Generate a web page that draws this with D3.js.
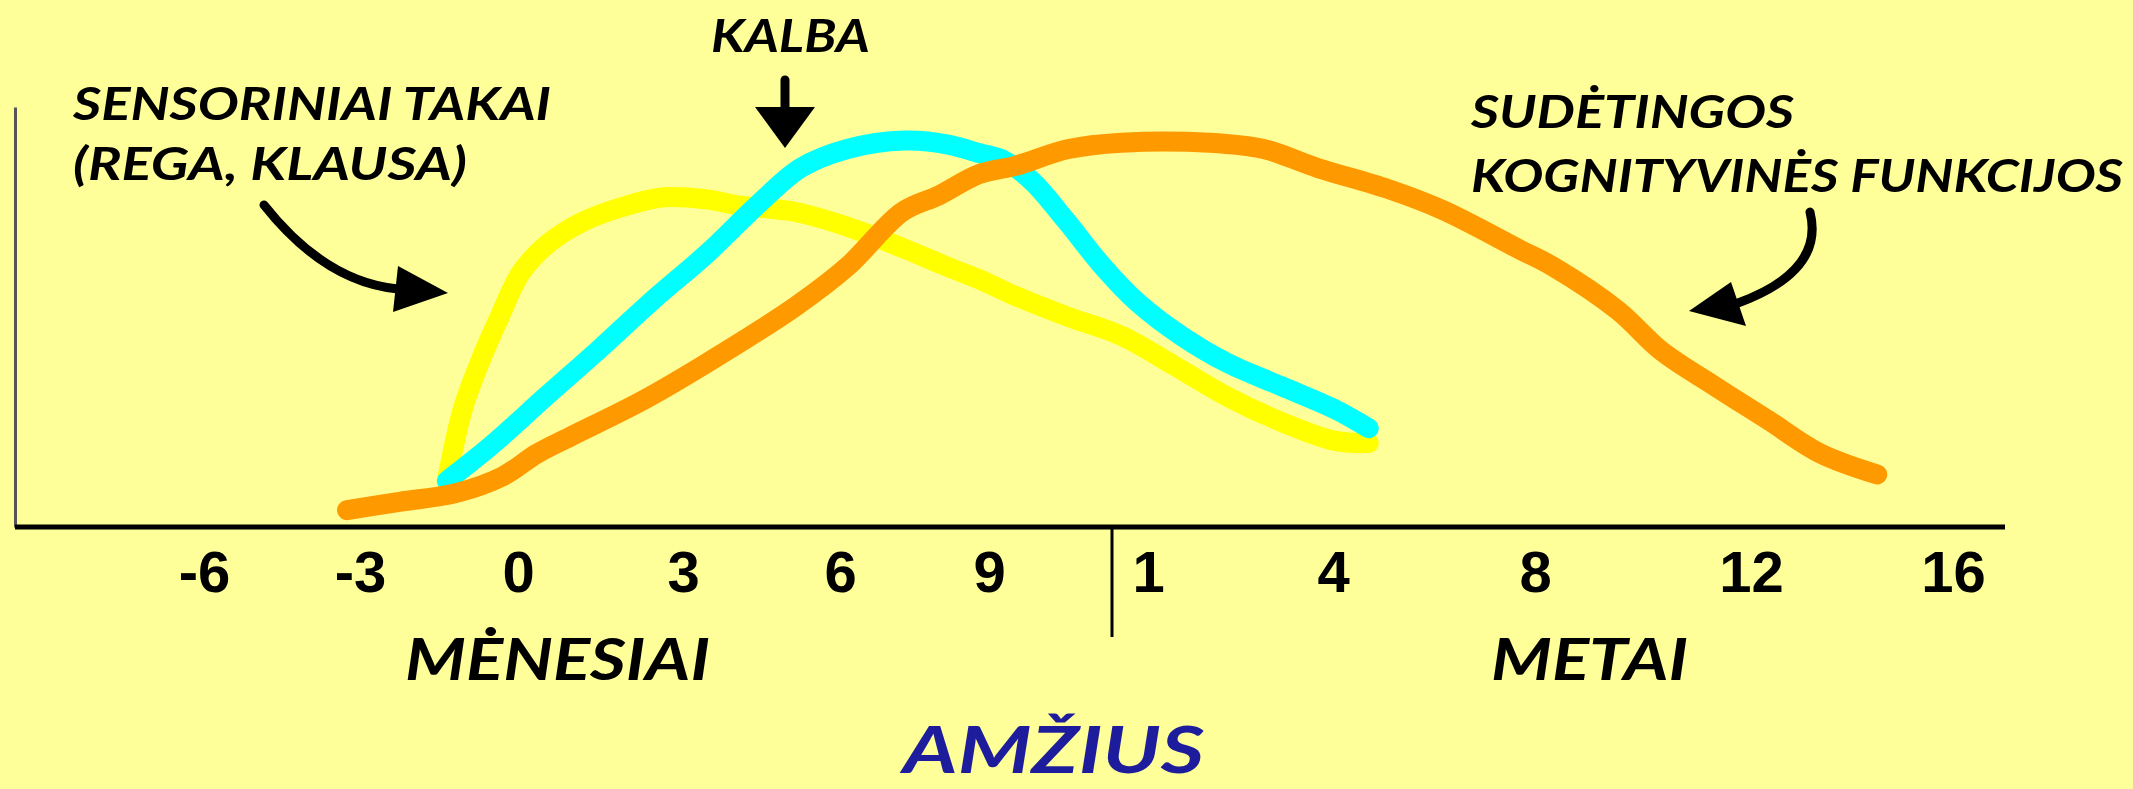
<!DOCTYPE html>
<html lang="lt">
<head>
<meta charset="UTF-8">
<title>Raidos kreivės</title>
<script src="https://d3js.org/d3.v7.min.js"></script>
<style>
  html, body { margin: 0; padding: 0; background: #ffff99; overflow: hidden; }
  svg { display: block; }
  .lbl { font-family: Lato, "Open Sans", sans-serif; font-weight: 700; font-style: italic; }
</style>
</head>
<body>
<div id="chart"></div>
<script>
// x axis: age in months (first part months, then years)
const tickMonths = [-6, -3, 0, 3, 6, 9, 12, 48, 96, 144, 192];
const tickLabels = ["-6", "-3", "0", "3", "6", "9", "1", "4", "8", "12", "16"];

// sensoriniai takai (yellow)
const sensoryMonths = [-1.35, -1.05, -0.7, -0.35, 0.05, 0.55, 1.15, 1.85, 2.65, 3.45, 4.1, 5.15, 6.15, 7.25, 8.15, 8.8, 9.5, 10.5, 11.5, 17, 27.5, 38, 48.5, 56.5];
const sensoryValues = [11, 28, 40, 50, 60.5, 67.5, 72.5, 76, 78.5, 78, 76.5, 75, 71.5, 66.5, 62, 59, 55, 50, 45.5, 38.5, 31, 25, 20.5, 20];

// kalba (cyan)
const languageMonths = [-1.35, -0.5, 0.5, 1.45, 2.45, 3.45, 4.45, 5.25, 6.15, 7.3, 8.2, 8.8, 9.25, 9.8, 10.45, 11.15, 11.8, 18.5, 27.5, 38, 48.5, 56.5];
const languageValues = [11, 19.5, 31, 42, 54, 65, 77, 85.5, 90, 92, 91, 89, 87.5, 82.5, 73, 62, 53.5, 45.5, 39, 33.5, 28, 23.5];

// sudetingos kognityvines funkcijos (orange)
const cognitiveMonths = [-3.25, -2.25, -1.2, -0.3, 0.35, 0.95, 2.25, 3.45, 5.15, 6.15, 7.25, 8.0, 8.8, 9.5, 10.5, 11.5, 24, 34.5, 45, 61, 74, 92.5, 100, 114.5, 124, 136, 148, 160.5, 174];
const cognitiveValues = [4, 6, 8, 12, 17.5, 21.5, 30, 39, 52.5, 62, 75, 79, 84, 86, 90, 91.5, 91.5, 90, 85.5, 80.5, 75.5, 66, 62, 51.5, 42, 33.5, 25.5, 17.5, 12.5];

const width = 2133, height = 789;
const axisY = 527, axisTop = 107, axisLeft = 15, axisRight = 2005;
const tickPx = [204, 360, 518, 683, 840, 989, 1148, 1333, 1535, 1751, 1953];

const svg = d3.select("#chart").append("svg")
    .attr("width", width)
    .attr("height", height);

svg.append("rect").attr("width", width).attr("height", height).attr("fill", "#ffff99");

// piecewise scale, months part and years part have different spacing
const x = d3.scaleLinear().domain(tickMonths).range(tickPx);
const y = d3.scaleLinear().domain([0, 100]).range([axisY, axisTop]);

// y axis (no ticks)
svg.append("g")
    .attr("transform", `translate(${axisLeft},0)`)
    .call(d3.axisLeft(y).tickValues([]).tickSizeOuter(0))
    .select(".domain")
    .attr("stroke", "#555")
    .attr("stroke-width", 3);

// x axis
const xg = svg.append("g")
    .attr("transform", `translate(0,${axisY})`)
    .call(d3.axisBottom(x).tickValues(tickMonths).tickFormat((d, i) => tickLabels[i]).tickSize(0));
xg.select(".domain").remove();
xg.selectAll("text")
    .attr("y", 65)
    .attr("dy", 0)
    .attr("fill", "#000")
    .style("font-family", "'Liberation Sans', Arial, sans-serif")
    .style("font-weight", 700)
    .style("font-size", "58px");

svg.append("line")
    .attr("x1", axisLeft).attr("x2", axisRight)
    .attr("y1", axisY).attr("y2", axisY)
    .attr("stroke", "#000").attr("stroke-width", 5);

// months | years divider
svg.append("line")
    .attr("x1", 1112).attr("x2", 1112)
    .attr("y1", axisY).attr("y2", 637)
    .attr("stroke", "#000").attr("stroke-width", 3);

// curves
const series = [
    { months: sensoryMonths, values: sensoryValues, color: "#ffff00" },
    { months: languageMonths, values: languageValues, color: "#00ffff" },
    { months: cognitiveMonths, values: cognitiveValues, color: "#ff9900" }
];

const line = d3.line()
    .x(d => x(d[0]))
    .y(d => y(d[1]))
    .curve(d3.curveCatmullRom.alpha(0.5));

series.forEach(s => {
    svg.append("path")
        .datum(s.months.map((m, i) => [m, s.values[i]]))
        .attr("d", line)
        .attr("fill", "none")
        .attr("stroke", s.color)
        .attr("stroke-width", 20)
        .attr("stroke-linecap", "round")
        .attr("stroke-linejoin", "round");
});

// arrows
const arrows = [
    { shaft: "M785,80 L785,112", head: [[755, 107], [815, 107], [785, 148]] },
    { shaft: "M264,205 Q325,282 398,289", head: [[448, 293], [398, 266], [393, 312]] },
    { shaft: "M1810,212 C1820,252 1795,282 1738,303", head: [[1689, 311], [1731, 282], [1746, 326]] }
];
arrows.forEach(a => {
    svg.append("path")
        .attr("d", a.shaft)
        .attr("fill", "none")
        .attr("stroke", "#000")
        .attr("stroke-width", 9)
        .attr("stroke-linecap", "round");
    svg.append("polygon")
        .attr("points", a.head.map(p => p.join(",")).join(" "))
        .attr("fill", "#000");
});

// labels
const notes = [
    { text: "KALBA", x: 711, y: 52, size: 45, w: 159 },
    { text: "SENSORINIAI TAKAI", x: 73, y: 120, size: 45, w: 478 },
    { text: "(REGA, KLAUSA)", x: 73, y: 180, size: 45, w: 394 },
    { text: "SUDĖTINGOS", x: 1471, y: 128, size: 45, w: 323 },
    { text: "KOGNITYVINĖS FUNKCIJOS", x: 1471, y: 192, size: 45, w: 652 },
    { text: "MĖNESIAI", x: 405, y: 680, size: 58, w: 305 },
    { text: "METAI", x: 1491, y: 680, size: 58, w: 197 },
    { text: "AMŽIUS", x: 903, y: 773, size: 65, w: 301, color: "#1c1c9c" }
];
notes.forEach(n => {
    svg.append("text")
        .attr("class", "lbl")
        .attr("x", n.x)
        .attr("y", n.y)
        .attr("fill", n.color || "#000")
        .attr("textLength", n.w)
        .attr("lengthAdjust", "spacingAndGlyphs")
        .style("font-size", n.size + "px")
        .text(n.text);
});
</script>
</body>
</html>
